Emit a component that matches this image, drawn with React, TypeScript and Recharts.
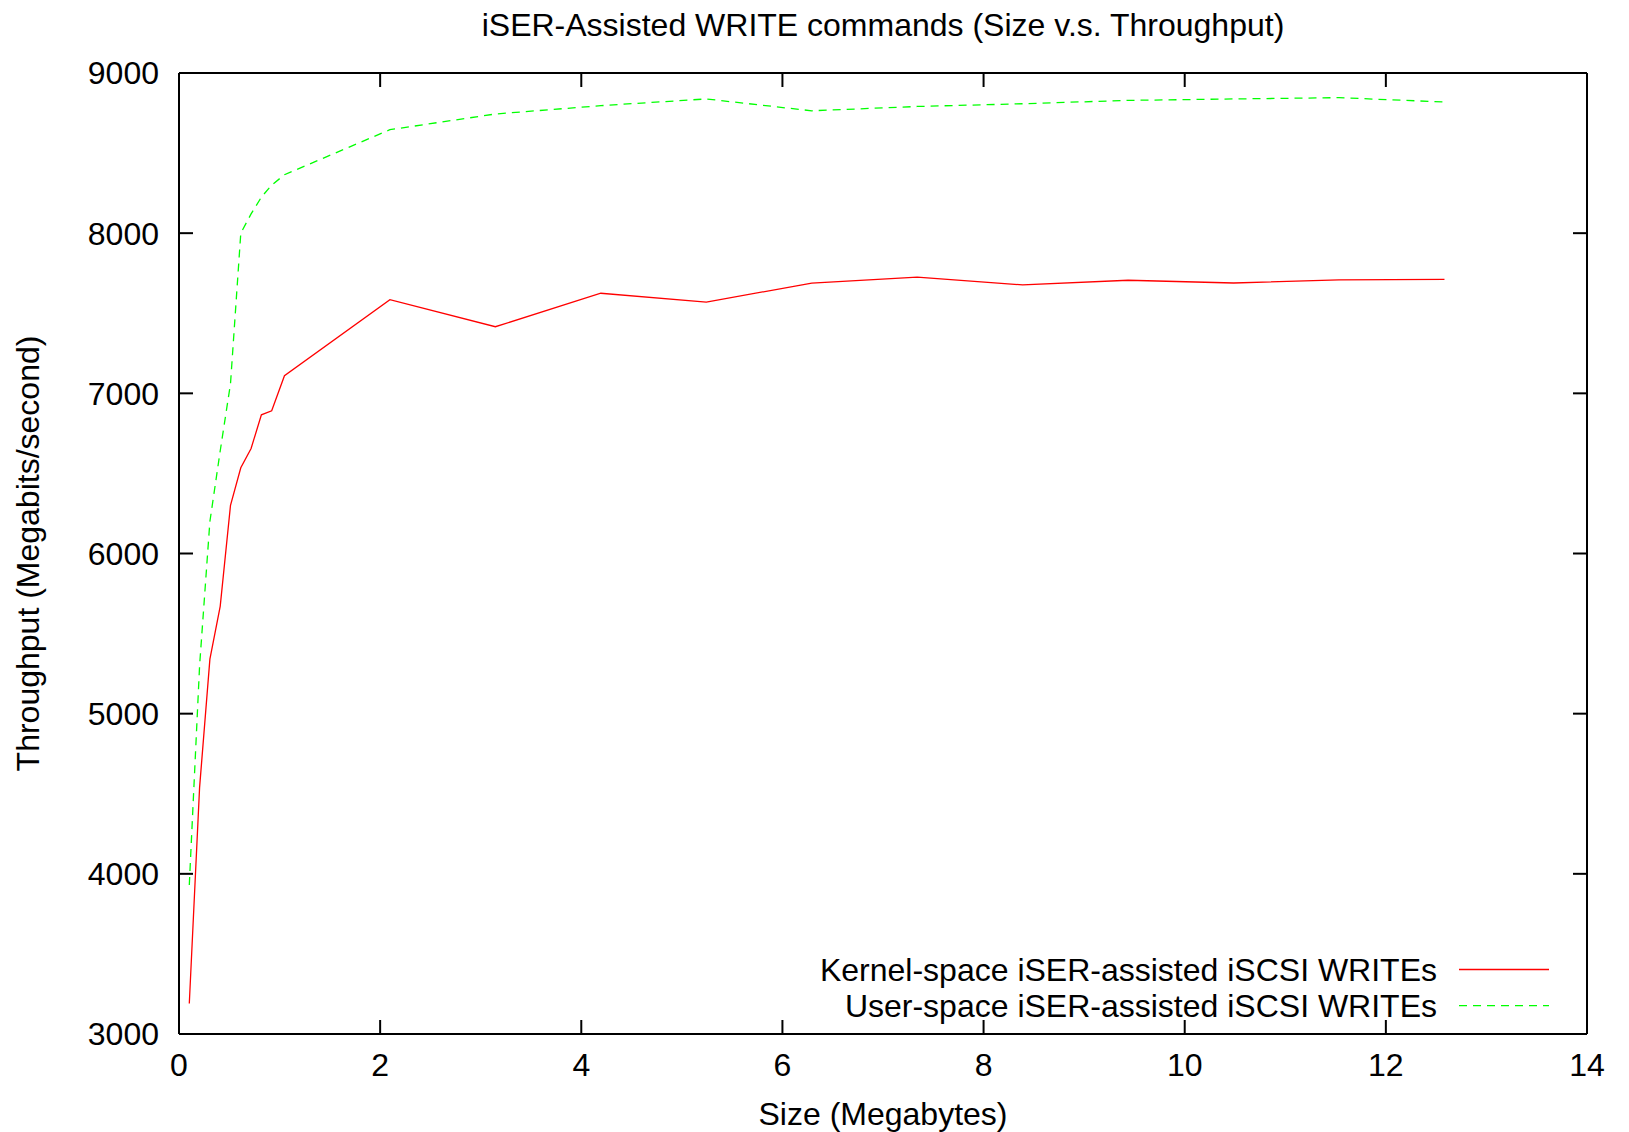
import React from 'react';
import { LineChart, Line, XAxis, YAxis, Legend, Customized } from 'recharts';

// Transfer size (Megabytes)
const sizes = [
  0.1024, 0.2048, 0.3072, 0.4096, 0.512, 0.6144, 0.7168, 0.8192, 0.9216,
  1.0486, 2.0972, 3.1457, 4.1943, 5.2429, 6.2915, 7.34, 8.3886, 9.4372,
  10.4858, 11.5343, 12.5829,
];
// Kernel-space iSER-assisted iSCSI WRITEs (Megabits/second)
const kernelSeries = [
  3190, 4540, 5340, 5670, 6300, 6535, 6656, 6866, 6891,
  7110, 7585, 7416, 7625, 7570, 7688, 7725, 7677, 7706,
  7689, 7708, 7712,
];
// User-space iSER-assisted iSCSI WRITEs (Megabits/second)
const userSeries = [
  3930, 5300, 6200, 6640, 7060, 8000, 8120, 8225, 8300,
  8365, 8646, 8744, 8796, 8838, 8764, 8791, 8808, 8829,
  8838, 8846, 8819,
];
const xTicks = [0, 2, 4, 6, 8, 10, 12, 14];
const yTicks = [3000, 4000, 5000, 6000, 7000, 8000, 9000];

const seriesNames = {
  kernel: 'Kernel-space iSER-assisted iSCSI WRITEs',
  user: 'User-space iSER-assisted iSCSI WRITEs',
};
const titleText = 'iSER-Assisted WRITE commands (Size v.s. Throughput)';
const xLabelText = 'Size (Megabytes)';
const yLabelText = 'Throughput (Megabits/second)';

const data = sizes.map((s, i) => ({ size: s, kernel: kernelSeries[i], user: userSeries[i] }));

const FONT = '"Liberation Sans", Arial, Helvetica, sans-serif';
const W = 1629;
const H = 1132;

const emptyTick = () => <g />;

const Texts = () => (
  <g fontFamily={FONT} fill="#000">
    <text x={883} y={25} fontSize={32} textAnchor="middle" dominantBaseline="central">
      {titleText}
    </text>
    <text x={883} y={1114} fontSize={32} textAnchor="middle" dominantBaseline="central">
      {xLabelText}
    </text>
    <text
      x={28}
      y={553.5}
      fontSize={32}
      textAnchor="middle"
      dominantBaseline="central"
      transform="rotate(-90 28 553.5)"
    >
      {yLabelText}
    </text>
  </g>
);

const LegendContent = (props: any) => {
  const payload = props.payload || [];
  const rows = [969.5, 1005.6];
  return (
    <svg width={W} height={H} style={{ position: 'absolute', left: 0, top: 0, pointerEvents: 'none' }}>
      {payload.map((p: any, i: number) => (
        <g key={p.value}>
          <text
            x={1437}
            y={rows[i]}
            fontSize={32}
            fontFamily={FONT}
            textAnchor="end"
            dominantBaseline="central"
            fill="#000"
          >
            {p.value}
          </text>
          <line
            x1={1459}
            x2={1549}
            y1={rows[i]}
            y2={rows[i]}
            stroke={p.color}
            strokeWidth={1.3}
            strokeDasharray={p.payload && p.payload.strokeDasharray ? p.payload.strokeDasharray : undefined}
          />
        </g>
      ))}
    </svg>
  );
};

export default function App() {
  return (
    <div style={{ position: 'absolute', left: 0, top: 0, width: W, height: H, background: '#fff' }}>
      <LineChart width={W} height={H} data={data} margin={{ top: 73, right: 42, left: 0, bottom: 0 }}>
        {/* label axes */}
        <XAxis
          xAxisId="main"
          dataKey="size"
          type="number"
          domain={[0, 14]}
          ticks={xTicks}
          allowDataOverflow
          height={98}
          axisLine={false}
          tickLine={false}
          tickSize={0}
          tickMargin={19}
          tick={{ fontSize: 32, fill: '#000', fontFamily: FONT }}
        />
        <YAxis
          yAxisId="main"
          type="number"
          domain={[3000, 9000]}
          ticks={yTicks}
          allowDataOverflow
          width={179}
          axisLine={false}
          tickLine={false}
          tickSize={0}
          tickMargin={20}
          tick={{ fontSize: 32, fill: '#000', fontFamily: FONT }}
        />
        {/* frame + inward ticks */}
        <XAxis
          xAxisId="b"
          dataKey="size"
          type="number"
          domain={[0, 14]}
          ticks={xTicks}
          allowDataOverflow
          orientation="bottom"
          mirror
          height={20}
          tickSize={14}
          tick={emptyTick}
          axisLine={{ stroke: '#000', strokeWidth: 2 }}
          tickLine={{ stroke: '#000', strokeWidth: 2 }}
        />
        <XAxis
          xAxisId="t"
          dataKey="size"
          type="number"
          domain={[0, 14]}
          ticks={xTicks}
          allowDataOverflow
          orientation="top"
          mirror
          height={20}
          tickSize={14}
          tick={emptyTick}
          axisLine={{ stroke: '#000', strokeWidth: 2 }}
          tickLine={{ stroke: '#000', strokeWidth: 2 }}
        />
        <YAxis
          yAxisId="l"
          type="number"
          domain={[3000, 9000]}
          ticks={yTicks}
          allowDataOverflow
          orientation="left"
          mirror
          width={20}
          tickSize={14}
          tick={emptyTick}
          axisLine={{ stroke: '#000', strokeWidth: 2 }}
          tickLine={{ stroke: '#000', strokeWidth: 2 }}
        />
        <YAxis
          yAxisId="r"
          type="number"
          domain={[3000, 9000]}
          ticks={yTicks}
          allowDataOverflow
          orientation="right"
          mirror
          width={20}
          tickSize={14}
          tick={emptyTick}
          axisLine={{ stroke: '#000', strokeWidth: 2 }}
          tickLine={{ stroke: '#000', strokeWidth: 2 }}
        />
        <Line
          xAxisId="main"
          yAxisId="main"
          type="linear"
          dataKey="kernel"
          name={seriesNames.kernel}
          stroke="#ff0000"
          strokeWidth={1.3}
          dot={false}
          activeDot={false}
          isAnimationActive={false}
        />
        <Line
          xAxisId="main"
          yAxisId="main"
          type="linear"
          dataKey="user"
          name={seriesNames.user}
          stroke="#00ff00"
          strokeWidth={1.3}
          strokeDasharray="8 6"
          dot={false}
          activeDot={false}
          isAnimationActive={false}
        />
        <Legend
          layout="vertical"
          align="center"
          verticalAlign="middle"
          content={LegendContent}
          wrapperStyle={{ position: 'absolute', left: 0, top: 0, width: W, height: H, pointerEvents: 'none' }}
        />
        <Customized component={Texts} />
      </LineChart>
    </div>
  );
}
